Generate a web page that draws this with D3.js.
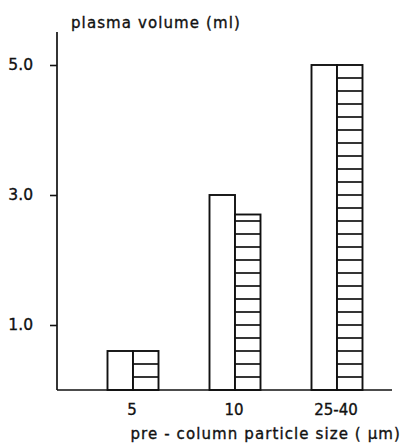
<!DOCTYPE html>
<html>
<head>
<meta charset="utf-8">
<script src="https://cdn.jsdelivr.net/npm/d3@7"></script>
<style>
  body { margin: 0; background: #fff; }
  text { font-family: "DejaVu Sans", sans-serif; fill: #111; stroke: #111; stroke-width: 0.35; }
</style>
</head>
<body>
<script>
// categories and the two series (open bar, hatched bar)
var sizes = ["5", "10", "25-40"];
var openValues = [0.6, 3.0, 5.0];
var hatchedValues = [0.6, 2.7, 5.0];
var yTicks = [1.0, 3.0, 5.0];

var w = 402, h = 445;
var margin = {top: 32, right: 10, bottom: 55, left: 57};
var baseY = h - margin.bottom;

var svg = d3.select("body").append("svg")
    .attr("width", w)
    .attr("height", h);

var x = d3.scaleBand()
    .domain(sizes)
    .range([82, 388]);

var bw = 25.5;
var x1 = d3.scaleBand()
    .domain(["open", "hatched"])
    .range([x.bandwidth() / 2 - bw, x.bandwidth() / 2 + bw]);

var y = d3.scaleLinear()
    .domain([0, 5.5])
    .range([baseY, 32.5]);

var data = sizes.map(function(s, i) {
  return {key: s, open: openValues[i], hatched: hatchedValues[i]};
});

// y axis
var yAxis = d3.axisLeft(y)
    .tickValues(yTicks)
    .tickSize(7)
    .tickPadding(17)
    .tickFormat(d3.format(".1f"));

var gy = svg.append("g")
    .attr("transform", "translate(" + margin.left + ",0)")
    .call(yAxis);
gy.select(".domain").remove();
gy.selectAll(".tick line").attr("stroke", "#111").attr("stroke-width", 1.6);
gy.selectAll(".tick text")
    .attr("font-size", 15.5)
    .attr("font-family", "DejaVu Sans, sans-serif")
    .attr("fill", "#111");

svg.append("line")
    .attr("x1", margin.left).attr("x2", margin.left)
    .attr("y1", margin.top).attr("y2", baseY)
    .attr("stroke", "#111").attr("stroke-width", 1.7);

// bars
var groups = svg.selectAll(".grp")
    .data(data)
    .enter().append("g")
    .attr("class", "grp")
    .attr("transform", function(d) { return "translate(" + x(d.key) + ",0)"; });

groups.append("rect")
    .attr("x", x1("open"))
    .attr("y", function(d) { return y(d.open); })
    .attr("width", x1.bandwidth())
    .attr("height", function(d) { return baseY - y(d.open); })
    .attr("fill", "#fff")
    .attr("stroke", "#111")
    .attr("stroke-width", 1.9);

groups.append("rect")
    .attr("x", x1("hatched"))
    .attr("y", function(d) { return y(d.hatched); })
    .attr("width", x1.bandwidth())
    .attr("height", function(d) { return baseY - y(d.hatched); })
    .attr("fill", "#fff")
    .attr("stroke", "#111")
    .attr("stroke-width", 1.9);

// horizontal hatch every 0.2 ml
groups.each(function(d) {
  var lines = d3.range(0.2, d.hatched - 0.05, 0.2);
  d3.select(this).selectAll(".hatch")
      .data(lines)
      .enter().append("line")
      .attr("class", "hatch")
      .attr("x1", x1("hatched"))
      .attr("x2", x1("hatched") + x1.bandwidth())
      .attr("y1", function(v) { return y(v); })
      .attr("y2", function(v) { return y(v); })
      .attr("stroke", "#111")
      .attr("stroke-width", 1.7);
});

// baseline
svg.append("line")
    .attr("x1", margin.left).attr("x2", w - margin.right)
    .attr("y1", baseY).attr("y2", baseY)
    .attr("stroke", "#111").attr("stroke-width", 1.7);

// category labels
svg.selectAll(".cat")
    .data(sizes)
    .enter().append("text")
    .attr("class", "cat")
    .attr("x", function(d) { return x(d) + x.bandwidth() / 2 - 1; })
    .attr("y", baseY + 25)
    .attr("text-anchor", "middle")
    .attr("font-size", 15)
    .text(function(d) { return d; });

// titles
svg.append("text")
    .attr("x", 71)
    .attr("y", 28)
    .attr("font-size", 15)
    .attr("letter-spacing", 1.1)
    .text("plasma volume (ml)");

svg.append("text")
    .attr("x", 401)
    .attr("y", 439)
    .attr("text-anchor", "end")
    .attr("font-size", 15)
    .attr("letter-spacing", 1.1)
    .text("pre - column particle size ( μm)");
</script>
</body>
</html>
